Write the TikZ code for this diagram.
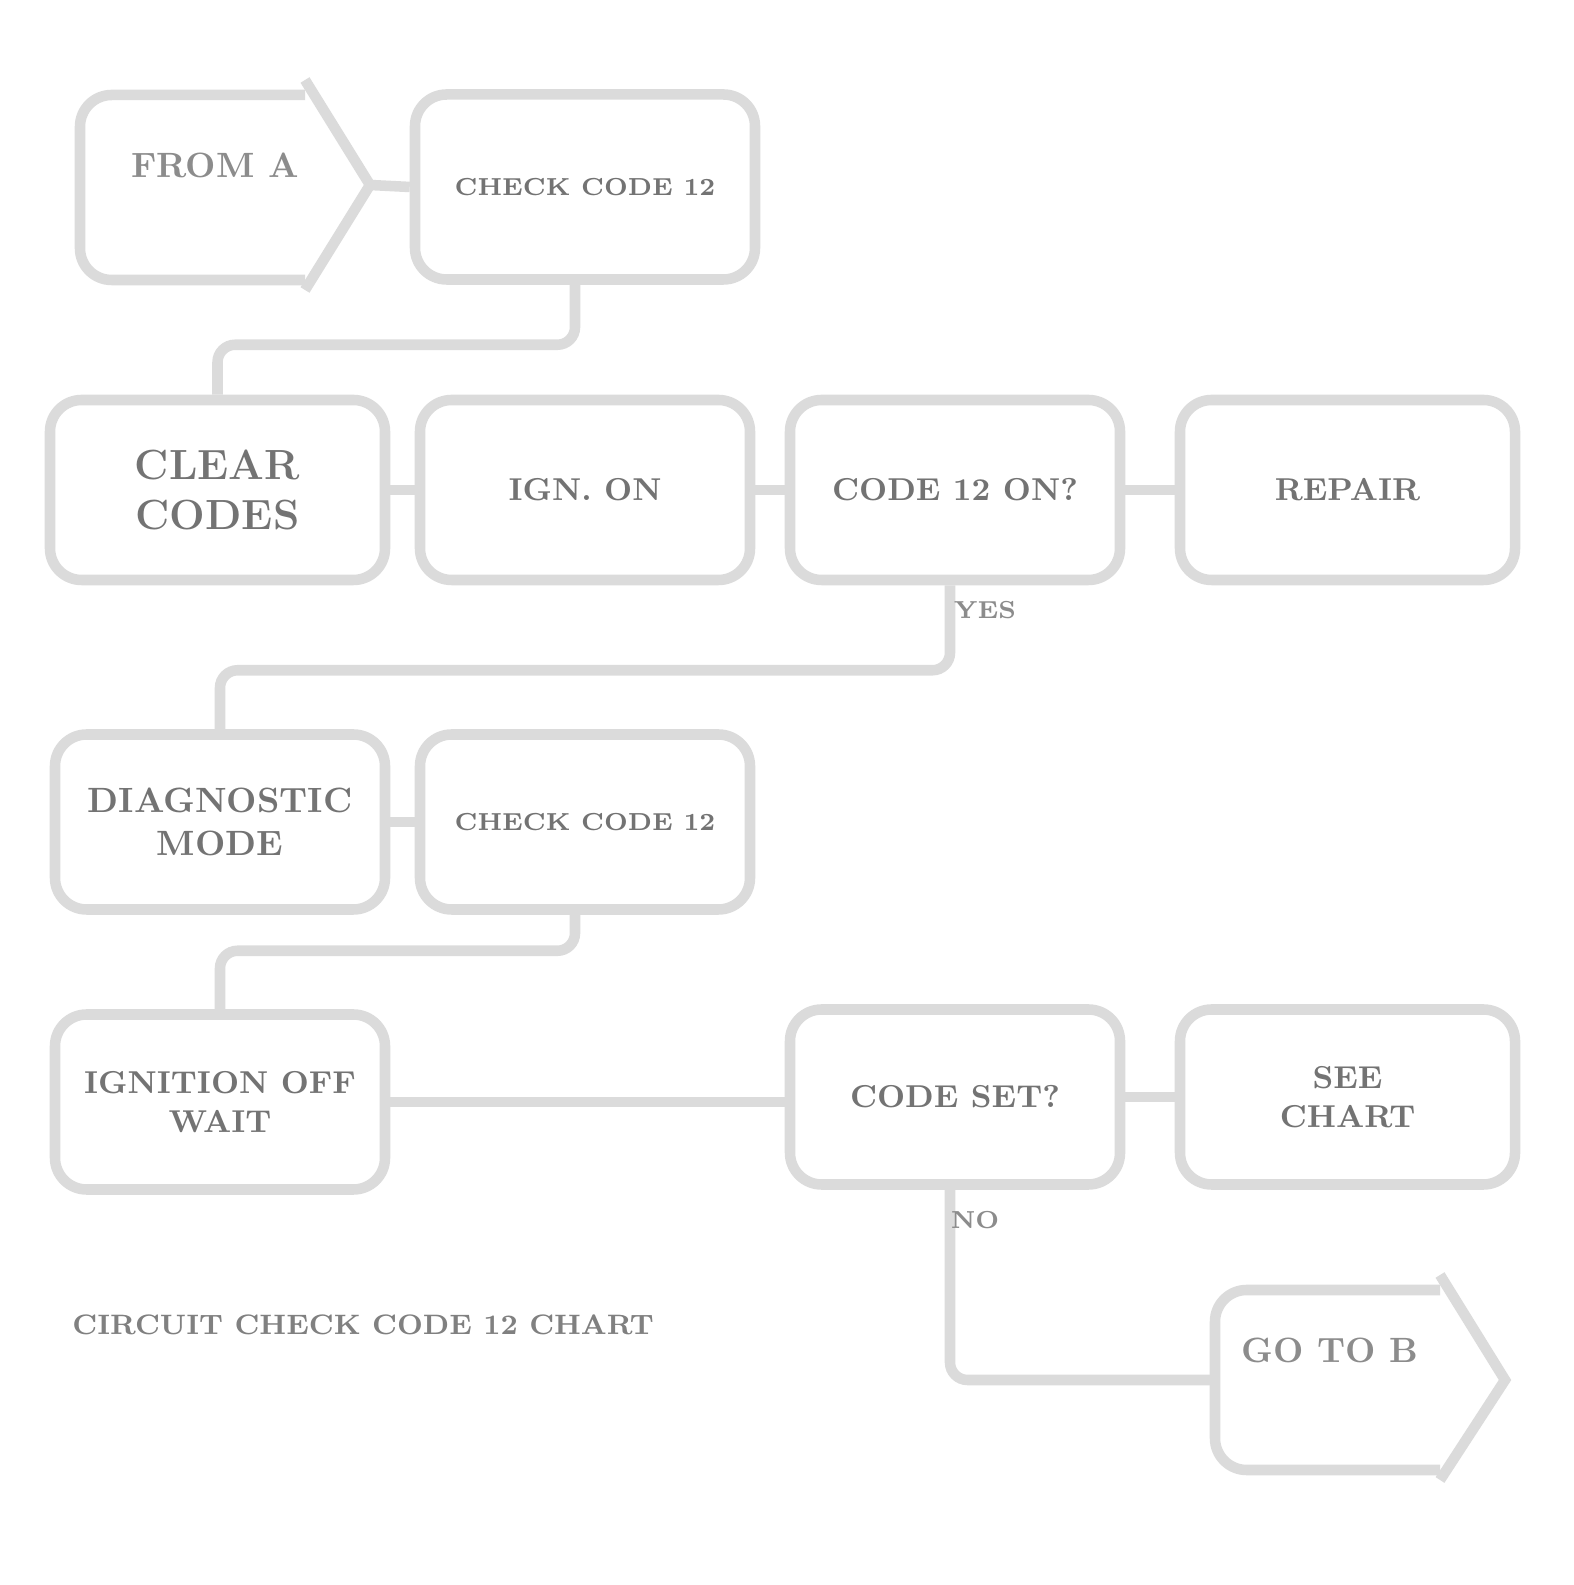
\documentclass[tikz,border=0pt]{standalone}
\usepackage{tikz}
\usetikzlibrary{positioning}

\begin{document}
\begin{tikzpicture}
	\tikzstyle{stepbox}=[draw=black!14,line width=3pt,rounded corners=9pt,minimum width=3.3cm,minimum height=1.8cm,text=black!55,font=\bfseries\small,align=center,inner sep=2pt]
	\tikzstyle{link}=[draw=black!14,line width=3pt]
	\tikzstyle{jump}=[draw=black!14,line width=3pt,rounded corners=5pt]
	\tikzstyle{offpage}=[draw=black!14,line width=3pt,rounded corners=9pt]
	\tikzstyle{tag}=[text=black!45,font=\bfseries\scriptsize,inner sep=1pt]

	\useasboundingbox (0,0) rectangle (15.74,15.85);

	% entry connector
	\draw[offpage] (3.05,14.90) -- (0.80,14.90) -- (0.80,13.05) -- (3.05,13.05);
	\draw[offpage,rounded corners=0pt] (3.05,15.05) -- (3.70,14.00) -- (3.05,12.95);
	\coordinate (p1tip) at (3.70,14.00);
	\node[tag,font=\bfseries\normalsize] (p1) at (2.15,14.20) {FROM A};

	\node[stepbox,minimum width=3.4cm,minimum height=1.85cm,font=\bfseries\scriptsize] (s1b) at (5.85,13.98) {CHECK CODE 12};

	% row 2
	\node[stepbox,minimum width=3.35cm,font=\bfseries\large] (s2a) at (2.175,10.95) {CLEAR\\CODES};
	\node[stepbox] (s2b) at (5.85,10.95) {IGN. ON};
	\node[stepbox] (s2c) at (9.55,10.95) {CODE 12 ON?};
	\node[stepbox,minimum width=3.35cm] (s2d) at (13.475,10.95) {REPAIR};

	% row 3
	\node[stepbox,minimum height=1.75cm,font=\bfseries\normalsize] (s3a) at (2.20,7.63) {DIAGNOSTIC\\MODE};
	\node[stepbox,minimum height=1.75cm,font=\bfseries\scriptsize] (s3b) at (5.85,7.63) {CHECK CODE 12};

	% row 4
	\node[stepbox,minimum height=1.75cm] (s4a) at (2.20,4.83) {IGNITION OFF\\WAIT};
	\node[stepbox,minimum height=1.75cm] (s4c) at (9.55,4.88) {CODE SET?};
	\node[stepbox,minimum width=3.35cm,minimum height=1.75cm] (s4d) at (13.475,4.88) {SEE\\CHART};

	% exit connector
	\draw[offpage] (14.40,2.95) -- (12.15,2.95) -- (12.15,1.15) -- (14.40,1.15);
	\draw[offpage,rounded corners=0pt] (14.40,3.10) -- (15.05,2.05) -- (14.40,1.05);
	\coordinate (p2in) at (12.15,2.05);
	\node[tag,font=\bfseries\normalsize] (p2) at (13.30,2.35) {GO TO B};

	\node[anchor=west,text=black!50,font=\bfseries\footnotesize] (cap) at (0.60,2.60) {CIRCUIT CHECK CODE 12 CHART};

	% connectors
	\draw[link] (p1tip) -- (s1b.west);
	\draw[jump] ([xshift=-1mm]s1b.south) -- ++(0,-0.6) -| (s2a.north);
	\draw[link] (s2a) -- (s2b);
	\draw[link] (s2b) -- (s2c);
	\draw[link] (s2c) -- (s2d);
	\draw[jump] ([xshift=-0.5mm]s2c.south) -- ++(0,-0.85) -| (s3a.north);
	\node[tag] (yes) at (9.85,9.75) {YES};
	\draw[link] (s3a) -- (s3b);
	\draw[jump] ([xshift=-1mm]s3b.south) -- ++(0,-0.36) -| (s4a.north);
	\draw[link] (s4a.east) -- (s4a.east -| s4c.west);
	\draw[link] (s4c) -- (s4d);
	\draw[jump] ([xshift=-0.5mm]s4c.south) |- (p2in);
	\node[tag] (no) at (9.75,3.65) {NO};
\end{tikzpicture}
\end{document}
